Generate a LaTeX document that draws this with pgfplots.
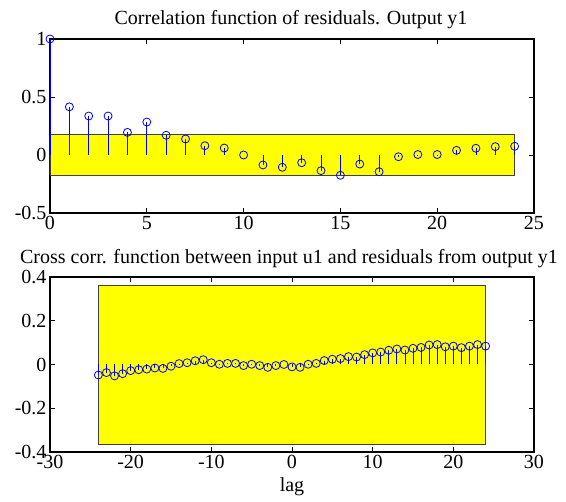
\documentclass[border=0pt]{standalone}
\usepackage{pgfplots}
\pgfplotsset{compat=1.18}
\usepackage{fontspec}
\setmainfont{Liberation Serif}
\definecolor{myyellow}{RGB}{255,255,0}
\definecolor{myblue}{RGB}{0,0,255}

\pgfplotstableread{
lag r
0 1
1 0.415
2 0.336
3 0.336
4 0.195
5 0.284
6 0.170
7 0.138
8 0.080
9 0.060
10 0.0
11 -0.086
12 -0.106
13 -0.067
14 -0.135
15 -0.175
16 -0.078
17 -0.144
18 -0.015
19 0.004
20 0.004
21 0.040
22 0.058
23 0.072
24 0.075
}\autocorr

\pgfplotstableread{
lag r
-24 -0.048
-23 -0.037
-22 -0.052
-21 -0.042
-20 -0.028
-19 -0.024
-18 -0.021
-17 -0.016
-16 -0.018
-15 -0.008
-14 0.004
-13 0.008
-12 0.017
-11 0.022
-10 0.008
-9 0.001
-8 0.005
-7 0.005
-6 -0.005
-5 0.001
-4 -0.005
-3 -0.013
-2 -0.005
-1 0.000
0 -0.011
1 -0.013
2 0.001
3 0.005
4 0.018
5 0.024
6 0.027
7 0.036
8 0.034
9 0.045
10 0.053
11 0.057
12 0.065
13 0.071
14 0.066
15 0.074
16 0.078
17 0.089
18 0.091
19 0.081
20 0.084
21 0.077
22 0.084
23 0.091
24 0.084
}\crosscorr

\pgfplotsset{
  mystyle/.style={
    scale only axis,
    anchor=south west,
    width=484pt,
    tick align=inside,
    major tick length=5pt,
    axis line style={line width=1.1pt},
    every tick/.style={black, line width=0.7pt},
    tick label style={font=\fontsize{20}{24}\selectfont},
    clip=false,
  },
  stemstyle/.style={ycomb, myblue, line width=0.8pt, mark=o, mark size=4pt,
    mark options={myblue, line width=0.8pt, fill=none}},
}

\begin{document}
\begin{tikzpicture}
\useasboundingbox (0pt,0pt) rectangle (566pt,502pt);
\begin{axis}[mystyle,
  at={(50pt,289pt)}, height=174pt,
  xmin=0, xmax=25, ymin=-0.5, ymax=1,
  xtick={0,5,10,15,20,25}, xticklabels={\mbox{0},\mbox{5},\mbox{10},\mbox{15},\mbox{20},\mbox{25}},
  ytick={-0.5,0,0.5,1}, yticklabels={\mbox{-0.5},\mbox{0},\mbox{0.5},\mbox{1}},
]
\addplot [fill=myyellow, draw=black!75, line width=0.7pt] coordinates {(0,-0.177) (24,-0.177) (24,0.177) (0,0.177) (0,-0.177)};
\addplot [stemstyle] table [x=lag, y=r] {\autocorr};
\end{axis}
\begin{axis}[mystyle,
  at={(50pt,50pt)}, height=175pt,
  xmin=-30, xmax=30, ymin=-0.4, ymax=0.4,
  xtick={-30,-20,...,30}, xticklabels={\mbox{-30},\mbox{-20},\mbox{-10},\mbox{0},\mbox{10},\mbox{20},\mbox{30}},
  ytick={-0.4,-0.2,0,0.2,0.4}, yticklabels={\mbox{-0.4},\mbox{-0.2},\mbox{0},\mbox{0.2},\mbox{0.4}},
]
\addplot [fill=myyellow, draw=black!75, line width=0.7pt] coordinates {(-24,-0.364) (24,-0.364) (24,0.364) (-24,0.364) (-24,-0.364)};
\addplot [stemstyle] table [x=lag, y=r] {\crosscorr};
\end{axis}
\node[anchor=base, font=\fontsize{20}{24}\selectfont] at (291pt,477pt) {Correlation function of residuals. Output y1};
\node[anchor=base, font=\fontsize{20}{24}\selectfont] at (289pt,238pt) {Cross corr. function between input u1 and residuals from output y1};
\node[anchor=base, font=\fontsize{20}{24}\selectfont] at (292pt,10pt) {lag};
\end{tikzpicture}
\end{document}
